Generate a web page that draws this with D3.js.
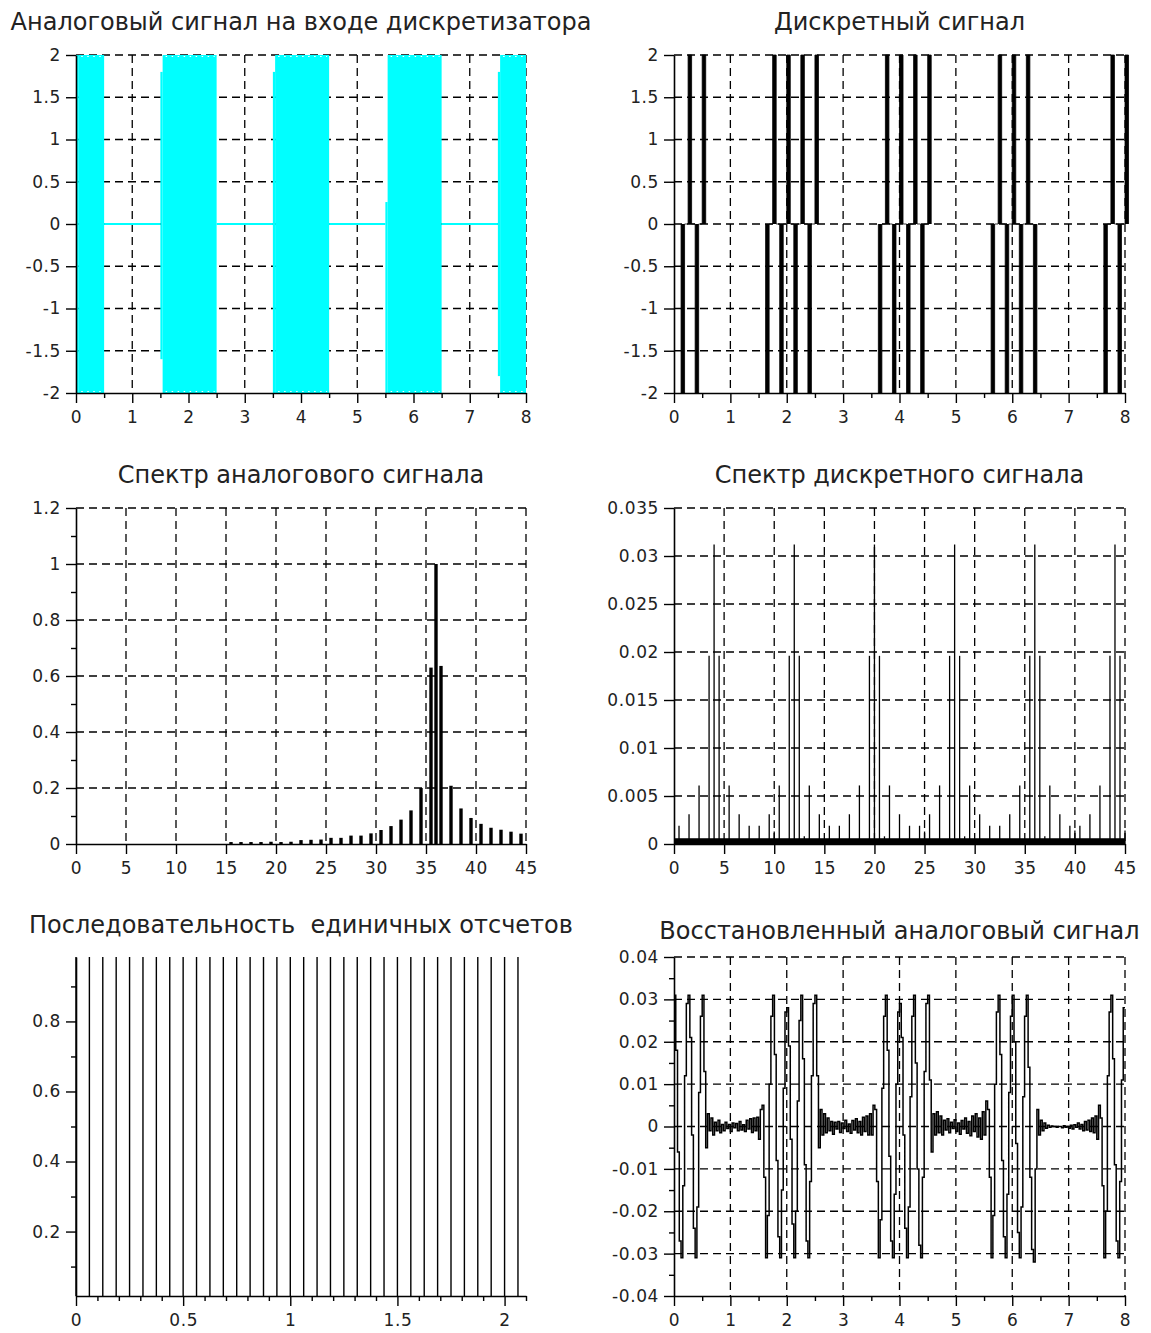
<!DOCTYPE html>
<html>
<head>
<meta charset="utf-8">
<script src="https://cdn.jsdelivr.net/npm/d3@7"></script>
<style>
  body { margin: 0; background: #fff; }
  svg text { font-family: "DejaVu Sans", sans-serif; white-space: pre; }
</style>
</head>
<body>
<svg id="fig" width="1151" height="1333"></svg>
<script>
// ---------- data ----------

// analog input: 36 Hz tone of amplitude 2, switched on in bursts
const analogBursts = [[0, 0.5], [1.5, 2.5], [3.5, 4.5], [5.5, 6.5], [7.5, 8]];
const analogAmp = 2;
const burstLeadHi = [2, 1.8, 1.8, 0.26, 1.8];
const burstLeadLo = [-2, -1.6, -2, -2, -1.8];
const burstLeadWidth = 0.04;

// sampled signal (step 1/16 s): indices of non-zero samples and their values
const sampleStep = 0.0625;
const discreteIdx = [2, 4, 6, 8, 26, 28, 30, 32, 34, 36, 38, 40, 58, 60, 62, 64, 66, 68, 70, 72,
  90, 92, 94, 96, 98, 100, 102, 122, 124, 126, 128];
const discreteVal = [-2, 2, -2, 2, -2, 2, -2, 2, -2, 2, -2, 2, -2, 2, -2, 2, -2, 2, -2, 2,
  -2, 2, -2, 2, -2, 2, -2, -2, 2, -2, 2];

// spectrum of the analog signal
const analogSpecFreq = [15.5, 16.5, 17.5, 18.5, 19.5, 20.5, 21.5, 22.5, 23.5, 24.5,
  25.5, 26.5, 27.5, 28.5, 29.5, 30.5, 31.5, 32.5, 33.5, 34.5,
  35.5, 36, 36.5,
  37.5, 38.5, 39.5, 40.5, 41.5, 42.5, 43.5, 44.5];
const analogSpecMag = [0.007, 0.007, 0.007, 0.007, 0.008, 0.007, 0.008, 0.014, 0.015, 0.016,
  0.022, 0.022, 0.030, 0.030, 0.038, 0.050, 0.064, 0.087, 0.120, 0.200,
  0.630, 1.000, 0.636,
  0.208, 0.127, 0.093, 0.072, 0.058, 0.051, 0.044, 0.037];

// spectrum of the sampled signal
const discreteSpecFreq = [
  0.5, 1.5, 2.5, 3.5, 4, 4.5, 5.5, 6.5, 7.5,
  8.5, 9.5, 10, 10.5, 11.5, 12, 12.5, 13, 13.5, 14.5, 15.5,
  16.5, 17.5, 18.5, 19.5, 20, 20.5, 21, 21.5, 22.5, 23.5,
  24.5, 25, 25.5, 26.5, 27.5, 28, 28.5, 29, 29.5, 30.5, 31.5,
  32.5, 33.5, 34.5, 35.5, 36, 36.5, 37, 37.5, 38.5, 39.5,
  40, 40.5, 41.5, 42.5, 43.5, 44, 44.5, 45];
const discreteSpecMag = [
  0.0019, 0.0031, 0.0061, 0.0196, 0.0312, 0.0196, 0.0061, 0.0031, 0.0019,
  0.0019, 0.0031, 0.0013, 0.0061, 0.0196, 0.0312, 0.0196, 0.0008, 0.0061, 0.0031, 0.0019,
  0.0019, 0.0031, 0.0061, 0.0196, 0.0312, 0.0196, 0.0008, 0.0061, 0.0031, 0.0019,
  0.0019, 0.0013, 0.0031, 0.0061, 0.0196, 0.0312, 0.0196, 0.0008, 0.0061, 0.0031, 0.0019,
  0.0019, 0.0031, 0.0061, 0.0196, 0.0312, 0.0196, 0.0008, 0.0061, 0.0031, 0.0019,
  0.0014, 0.0019, 0.0031, 0.0061, 0.0196, 0.0312, 0.0196, 0.0014];
const discreteSpecFloor = 0.0006;

// unit sample sequence
const pulseTimes = [0, 0.0625, 0.125, 0.1875, 0.25, 0.3125, 0.375, 0.4375, 0.5, 0.5625,
  0.625, 0.6875, 0.75, 0.8125, 0.875, 0.9375, 1, 1.0625, 1.125, 1.1875, 1.25, 1.3125,
  1.375, 1.4375, 1.5, 1.5625, 1.625, 1.6875, 1.75, 1.8125, 1.875, 1.9375, 2, 2.0625];
const pulseHeight = 1;

// reconstructed signal, one value per 1/32 s
const reconStep = 1 / 32;
const reconValues = [
  0.031, 0.018, -0.006, -0.027, -0.031, -0.014, 0.012, 0.029,
  0.031, 0.021, -0.002, -0.024, -0.031, -0.019, 0.008, 0.026,
  0.031, 0.013, -0.005, 0.003, -0.001, 0.002, -0.002, 0.001,
  -0.001, 0.0015, -0.0015, 0.0005, -0.001, 0.001, -0.0005, 0.0005,
  -0.0012, 0.0008, -0.0003, 0.0007, -0.001, 0.0012, -0.0008, 0.0004,
  -0.0012, 0.0015, -0.0006, 0.0018, -0.0014, 0.002, -0.001, 0.0022,
  -0.003, 0.004, 0.005, -0.012, -0.031, -0.021, 0.010, 0.026,
  0.031, 0.017, -0.008, -0.026, -0.031, -0.015, 0.009, 0.027,
  0.028, 0.019, -0.003, -0.023, -0.031, -0.020, 0.006, 0.025,
  0.031, 0.016, -0.009, -0.027, -0.031, -0.013, 0.012, 0.029,
  0.031, 0.012, -0.005, 0.004, -0.002, 0.003, -0.0015, 0.002,
  -0.001, 0.0012, -0.0018, 0.001, -0.0006, 0.0012, -0.0014, 0.0008,
  -0.0005, 0.0015, -0.0012, 0.0006, -0.0016, 0.0014, -0.0008, 0.0018,
  -0.0015, 0.0012, -0.002, 0.0022, -0.0012, 0.0025, -0.002, 0.003,
  -0.002, 0.005, 0.004, -0.013, -0.031, -0.022, 0.009, 0.026,
  0.031, 0.018, -0.007, -0.027, -0.031, -0.016, 0.010, 0.027,
  0.029, 0.021, -0.002, -0.024, -0.031, -0.019, 0.007, 0.026,
  0.031, 0.015, -0.010, -0.028, -0.031, -0.012, 0.013, 0.029,
  0.031, 0.011, -0.006, 0.003, -0.002, 0.0035, -0.0015, 0.0025,
  -0.002, 0.0015, -0.0008, 0.0018, -0.0015, 0.001, -0.0005, 0.0016,
  -0.0012, 0.0008, -0.0018, 0.0014, -0.0006, 0.002, -0.0016, 0.0012,
  -0.0022, 0.0025, -0.0012, 0.003, -0.0025, 0.002, -0.003, 0.0035,
  -0.002, 0.006, 0.004, -0.012, -0.031, -0.021, 0.010, 0.027,
  0.031, 0.017, -0.008, -0.026, -0.031, -0.016, 0.008, 0.026,
  0.031, 0.020, -0.004, -0.025, -0.031, -0.019, 0.007, 0.026,
  0.031, 0.014, -0.012, -0.029, -0.032, -0.010, 0.004, -0.002,
  0.0015, -0.001, 0.0008, -0.0004, 0.0003, -0.0002, 0.0001, 0,
  0, -0.0002, 0, 0, -0.0003, 0.0002, -0.0002, 0,
  -0.0004, 0.0003, -0.0006, 0.0004, -0.0002, 0.0008, -0.0006, 0.0005,
  -0.001, 0.0012, -0.0008, 0.0015, -0.0012, 0.002, -0.0015, 0.0025,
  -0.003, 0.005, 0.002, -0.014, -0.031, -0.020, 0.012, 0.027,
  0.031, 0.016, -0.009, -0.027, -0.031, -0.013, 0.011, 0.028,
  0.028];

// ---------- ticks ----------
const timeTicks = [0, 1, 2, 3, 4, 5, 6, 7, 8];
const timeLabels = ["0", "1", "2", "3", "4", "5", "6", "7", "8"];
const timeMinor = [0.5, 1.5, 2.5, 3.5, 4.5, 5.5, 6.5, 7.5];
const ampTicks = [-2, -1.5, -1, -0.5, 0, 0.5, 1, 1.5, 2];
const ampLabels = ["-2", "-1.5", "-1", "-0.5", "0", "0.5", "1", "1.5", "2"];
const freqTicks = [0, 5, 10, 15, 20, 25, 30, 35, 40, 45];
const freqLabels = ["0", "5", "10", "15", "20", "25", "30", "35", "40", "45"];
const specTicks = [0, 0.2, 0.4, 0.6, 0.8, 1, 1.2];
const specLabels = ["0", "0.2", "0.4", "0.6", "0.8", "1", "1.2"];
const specMinor = [0.1, 0.3, 0.5, 0.7, 0.9, 1.1];
const dspecTicks = [0, 0.005, 0.01, 0.015, 0.02, 0.025, 0.03, 0.035];
const dspecLabels = ["0", "0.005", "0.01", "0.015", "0.02", "0.025", "0.03", "0.035"];
const pulseXTicks = [0, 0.5, 1, 1.5, 2];
const pulseXLabels = ["0", "0.5", "1", "1.5", "2"];
const pulseXMinor = [0.1, 0.2, 0.3, 0.4, 0.6, 0.7, 0.8, 0.9, 1.1, 1.2, 1.3, 1.4,
  1.6, 1.7, 1.8, 1.9, 2.1];
const pulseYTicks = [0.2, 0.4, 0.6, 0.8];
const pulseYLabels = ["0.2", "0.4", "0.6", "0.8"];
const pulseYMinor = [0.1, 0.3, 0.5, 0.7, 0.9];
const pulseXRange = [0, 2.1];
const pulseYRange = [0.016, 0.984];
const reconTicks = [-0.04, -0.03, -0.02, -0.01, 0, 0.01, 0.02, 0.03, 0.04];
const reconLabels = ["-0.04", "-0.03", "-0.02", "-0.01", "0", "0.01", "0.02", "0.03", "0.04"];
const reconMinor = [-0.035, -0.025, -0.015, -0.005, 0.005, 0.015, 0.025, 0.035];

// ---------- layout ----------
const colL = [76, 526], colR = [674, 1125];
const row1 = [55, 393], row2 = [508, 844], row3 = [957, 1296];
const TEXT = "#222";
const LABEL_SIZE = 17, TITLE_SIZE = 24;

const fig = d3.select("#fig");

function panel(o) {
  const x = d3.scaleLinear().domain(o.xDomain).range(o.col);
  const y = d3.scaleLinear().domain(o.yDomain).range([o.row[1], o.row[0]]);
  const root = fig.append("g");

  if (o.grid) {
    const gg = root.append("g")
      .attr("stroke", "#000").attr("stroke-width", 1.3)
      .attr("stroke-dasharray", "8,5").attr("fill", "none");
    gg.selectAll("line.gx").data(o.xTicks.filter(d => d !== o.xDomain[0])).join("line")
      .attr("class", "gx")
      .attr("x1", d => x(d)).attr("x2", d => x(d))
      .attr("y1", y(o.yDomain[1])).attr("y2", y(o.yDomain[0]));
    gg.selectAll("line.gy").data(o.yTicks.filter(d => d !== o.yDomain[0])).join("line")
      .attr("class", "gy")
      .attr("y1", d => y(d)).attr("y2", d => y(d))
      .attr("x1", x(o.xDomain[0])).attr("x2", x(o.xDomain[1]));
  }

  const data = root.append("g");
  const axes = root.append("g").attr("color", "#000");

  axes.append("g").attr("transform", `translate(0,${o.row[1]})`)
    .call(d3.axisBottom(x).tickValues(o.xTicks).tickFormat((d, i) => o.xLabels[i])
      .tickSize(10).tickPadding(8).tickSizeOuter(0));
  if (o.xMinor) {
    axes.append("g").attr("transform", `translate(0,${o.row[1]})`)
      .call(d3.axisBottom(x).tickValues(o.xMinor).tickFormat(() => "").tickSize(5).tickSizeOuter(0))
      .call(g => g.select(".domain").remove());
  }
  axes.append("g").attr("transform", `translate(${o.col[0]},0)`)
    .call(d3.axisLeft(y).tickValues(o.yTicks).tickFormat((d, i) => o.yLabels[i])
      .tickSize(10).tickPadding(5).tickSizeOuter(0));
  if (o.yMinor) {
    axes.append("g").attr("transform", `translate(${o.col[0]},0)`)
      .call(d3.axisLeft(y).tickValues(o.yMinor).tickFormat(() => "").tickSize(5).tickSizeOuter(0))
      .call(g => g.select(".domain").remove());
  }
  axes.selectAll("path.domain").attr("stroke-width", 1.6);
  axes.selectAll(".tick line").attr("stroke-width", 1.4);
  axes.selectAll("g").attr("font-family", null).attr("font-size", null);
  axes.selectAll("text").attr("font-size", LABEL_SIZE).attr("fill", TEXT)
    .attr("letter-spacing", 0.6);

  fig.append("text")
    .attr("x", (o.col[0] + o.col[1]) / 2).attr("y", o.titleY)
    .attr("text-anchor", "middle").attr("font-size", TITLE_SIZE).attr("fill", TEXT)
    .text(o.title);

  return { g: data, x, y };
}

// ---------- 1: analog input ----------
{
  const p = panel({
    col: colL, row: row1, xDomain: [0, 8], yDomain: [-2, 2],
    xTicks: timeTicks, xLabels: timeLabels, xMinor: timeMinor,
    yTicks: ampTicks, yLabels: ampLabels, grid: true, titleY: 30,
    title: "Аналоговый сигнал на входе дискретизатора"
  });
  const CYAN = "#00ffff";
  // zero level between bursts
  p.g.selectAll("line.zero").data(d3.pairs(analogBursts)).join("line")
    .attr("class", "zero")
    .attr("x1", d => p.x(d[0][1])).attr("x2", d => p.x(d[1][0]))
    .attr("y1", p.y(0)).attr("y2", p.y(0))
    .attr("stroke", CYAN).attr("stroke-width", 1.8);
  // leading half-cycle of each burst
  p.g.selectAll("rect.lead").data(analogBursts).join("rect")
    .attr("class", "lead")
    .attr("x", d => p.x(d[0])).attr("width", d => p.x(d[0] + burstLeadWidth) - p.x(d[0]))
    .attr("y", (d, i) => p.y(burstLeadHi[i]))
    .attr("height", (d, i) => p.y(burstLeadLo[i]) - p.y(burstLeadHi[i]))
    .attr("fill", CYAN);
  // the dense tone fills the band between -A and +A
  p.g.selectAll("rect.band").data(analogBursts).join("rect")
    .attr("class", "band")
    .attr("x", d => p.x(d[0] + burstLeadWidth))
    .attr("width", d => p.x(d[1]) - p.x(d[0] + burstLeadWidth))
    .attr("y", p.y(analogAmp)).attr("height", p.y(-analogAmp) - p.y(analogAmp))
    .attr("fill", CYAN);
  // crest points that fall just short of the amplitude
  [analogAmp, -analogAmp].forEach(a => {
    p.g.selectAll(null).data(analogBursts).join("line")
      .attr("x1", d => p.x(d[0] + burstLeadWidth) + 3).attr("x2", d => p.x(d[1]) - 2)
      .attr("y1", p.y(a) + (a > 0 ? 1.5 : -1.5)).attr("y2", p.y(a) + (a > 0 ? 1.5 : -1.5))
      .attr("stroke", "#fff").attr("stroke-width", 1.2).attr("stroke-dasharray", "1.5,4.5");
  });
}

// ---------- 2: sampled signal ----------
{
  const p = panel({
    col: colR, row: row1, xDomain: [0, 8], yDomain: [-2, 2],
    xTicks: timeTicks, xLabels: timeLabels, xMinor: timeMinor,
    yTicks: ampTicks, yLabels: ampLabels, grid: true, titleY: 30,
    title: "Дискретный сигнал"
  });
  const valueAt = new Map(discreteIdx.map((k, i) => [k, discreteVal[i]]));
  const groups = [];
  discreteIdx.forEach((k, i) => {
    if (i === 0 || k - discreteIdx[i - 1] > 2) groups.push([k, k]);
    else groups[groups.length - 1][1] = k;
  });
  const bursts = groups.map(([a, b]) => {
    const pts = [[a * sampleStep, 0]];
    for (let k = a; k <= b; k++) pts.push([k * sampleStep, valueAt.get(k) || 0]);
    pts.push([(b + 1) * sampleStep, 0]);
    return pts;
  });
  const line = d3.line().x(d => p.x(d[0])).y(d => p.y(d[1])).curve(d3.curveStepAfter);
  p.g.selectAll("path").data(bursts).join("path")
    .attr("d", line).attr("fill", "#000").attr("stroke", "#000").attr("stroke-width", 0.8);
}

// ---------- 3: analog spectrum ----------
{
  const p = panel({
    col: colL, row: row2, xDomain: [0, 45], yDomain: [0, 1.2],
    xTicks: freqTicks, xLabels: freqLabels,
    yTicks: specTicks, yLabels: specLabels, yMinor: specMinor, grid: true, titleY: 483,
    title: "Спектр аналогового сигнала"
  });
  p.g.selectAll("line").data(analogSpecFreq).join("line")
    .attr("x1", d => p.x(d)).attr("x2", d => p.x(d))
    .attr("y1", p.y(0)).attr("y2", (d, i) => p.y(analogSpecMag[i]))
    .attr("stroke", "#000").attr("stroke-width", 3.4);
}

// ---------- 4: sampled spectrum ----------
{
  const p = panel({
    col: colR, row: row2, xDomain: [0, 45], yDomain: [0, 0.035],
    xTicks: freqTicks, xLabels: freqLabels,
    yTicks: dspecTicks, yLabels: dspecLabels, grid: true, titleY: 483,
    title: "Спектр дискретного сигнала"
  });
  p.g.append("rect")
    .attr("x", p.x(0)).attr("width", p.x(45) - p.x(0))
    .attr("y", p.y(discreteSpecFloor)).attr("height", p.y(0) - p.y(discreteSpecFloor))
    .attr("fill", "#000");
  p.g.selectAll("line").data(discreteSpecFreq).join("line")
    .attr("x1", d => p.x(d)).attr("x2", d => p.x(d))
    .attr("y1", p.y(0)).attr("y2", (d, i) => p.y(discreteSpecMag[i]))
    .attr("stroke", "#000").attr("stroke-width", 1.3);
}

// ---------- 5: unit sample sequence ----------
{
  const p = panel({
    col: colL, row: row3, xDomain: pulseXRange, yDomain: pulseYRange,
    xTicks: pulseXTicks, xLabels: pulseXLabels, xMinor: pulseXMinor,
    yTicks: pulseYTicks, yLabels: pulseYLabels, yMinor: pulseYMinor, grid: false, titleY: 933,
    title: "Последовательность  единичных отсчетов"
  });
  p.g.selectAll("line").data(pulseTimes).join("line")
    .attr("x1", d => p.x(d)).attr("x2", d => p.x(d))
    .attr("y1", p.y(pulseYRange[0])).attr("y2", p.y(Math.min(pulseHeight, pulseYRange[1])))
    .attr("stroke", "#000").attr("stroke-width", 1.4);
}

// ---------- 6: reconstructed signal ----------
{
  const p = panel({
    col: colR, row: row3, xDomain: [0, 8], yDomain: [-0.04, 0.04],
    xTicks: timeTicks, xLabels: timeLabels, xMinor: timeMinor,
    yTicks: reconTicks, yLabels: reconLabels, yMinor: reconMinor, grid: true, titleY: 939,
    title: "Восстановленный аналоговый сигнал"
  });
  const line = d3.line().x((d, i) => p.x(i * reconStep)).y(d => p.y(d)).curve(d3.curveStepAfter);
  p.g.append("path").datum(reconValues)
    .attr("d", line).attr("fill", "none").attr("stroke", "#000").attr("stroke-width", 1.5);
}
</script>
</body>
</html>
